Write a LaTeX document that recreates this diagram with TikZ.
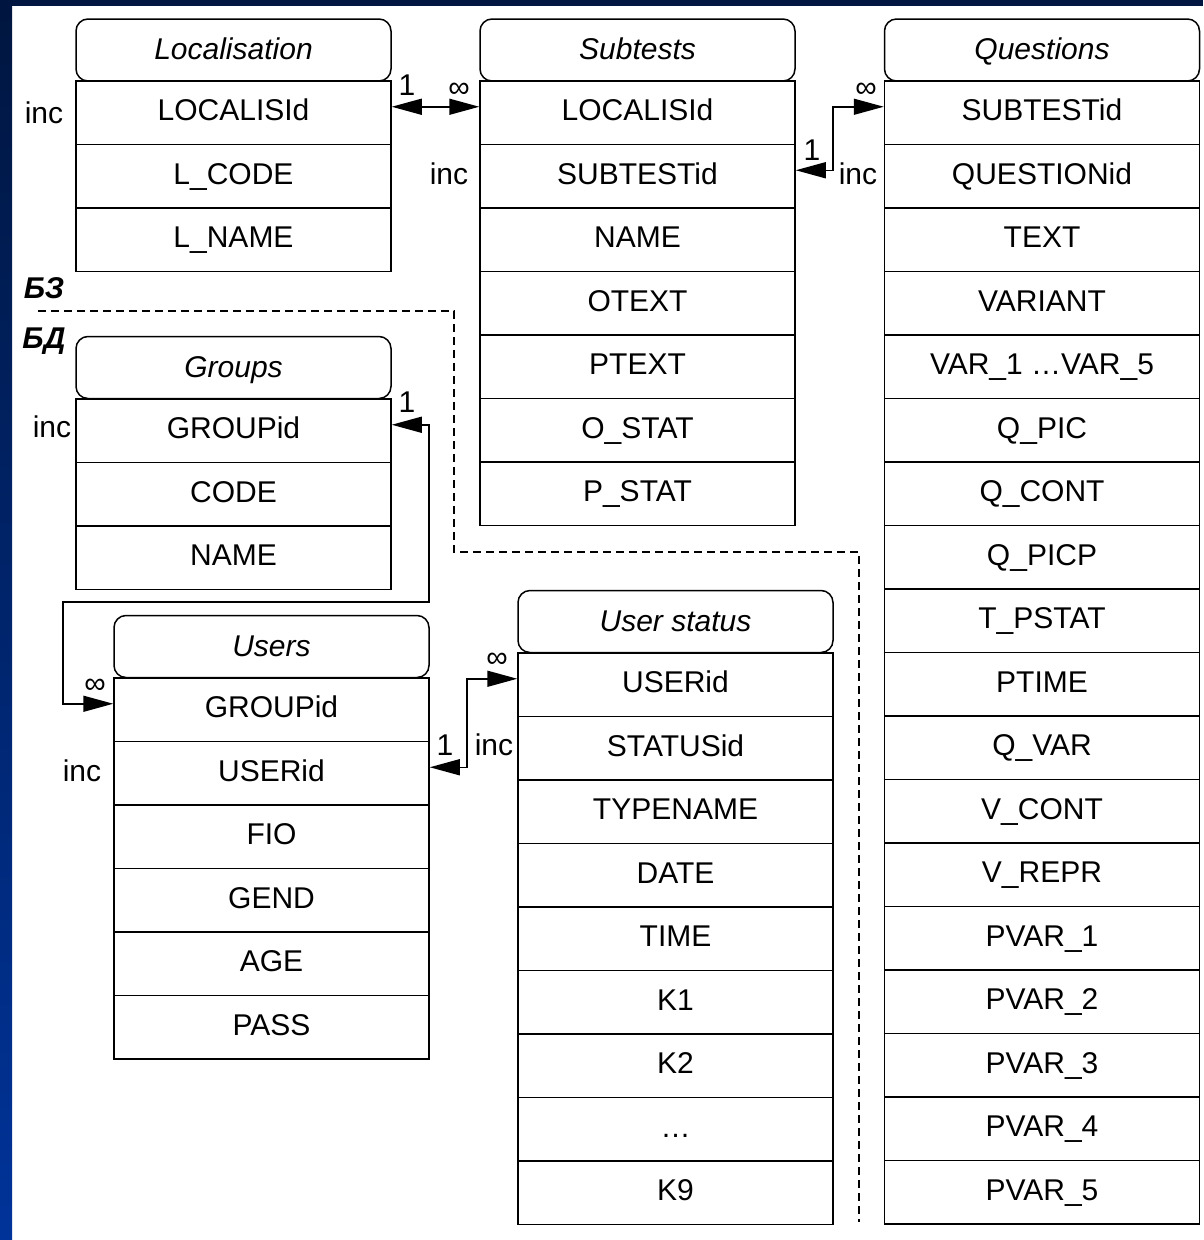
\documentclass[tikz,border=0pt]{standalone}
\usepackage{fontspec}
\setmainfont{Liberation Sans}
\usetikzlibrary{arrows.meta}
\definecolor{navy}{HTML}{001640}
\definecolor{slideblue}{HTML}{003399}
\tikzset{
	fld/.style={draw, line width=1.5pt, minimum width=315pt, minimum height=63.5pt, inner sep=0pt,
		text height=22pt, text depth=6pt, font=\fontsize{30}{36}\selectfont},
	hdr/.style={fld, rounded corners=12pt, minimum height=62pt, text depth=3pt, font=\fontsize{30}{36}\selectfont\itshape},
	lbl/.style={inner sep=0pt, font=\fontsize{30}{36}\selectfont},
	part/.style={inner sep=0pt, font=\fontsize{30}{36}\selectfont\bfseries\itshape},
	rel/.style={line width=1.5pt, {Triangle[length=30pt,width=16pt]}-{Triangle[length=30pt,width=16pt]}},
	border/.style={line width=1.5pt, dash pattern=on 8pt off 5pt}
}
\begin{document}
\begin{tikzpicture}[x=1pt, y=-1pt, line join=miter]
	\useasboundingbox (0,0) rectangle (1203,1240);
	\fill[white] (0,0) rectangle (1203,1240);
	\shade[top color=navy, bottom color=slideblue] (0,0) rectangle (12,1240);
	\fill[navy] (0,0) rectangle (1203,6);
	% tables
	\node[hdr] (loc) at (233.5,50) {Localisation};
	\foreach \f [count=\i] in {LOCALISId, L\_CODE, L\_NAME} \node[fld] (loc\i) at (233.5,{49.25+63.5*\i}) {\f};
	\node[hdr] (sub) at (637.5,50) {Subtests};
	\foreach \f [count=\i] in {LOCALISId, SUBTESTid, NAME, OTEXT, PTEXT, O\_STAT, P\_STAT} \node[fld] (sub\i) at (637.5,{49.25+63.5*\i}) {\f};
	\node[hdr] (q) at (1042,50) {Questions};
	\foreach \f [count=\i] in {SUBTESTid, QUESTIONid, TEXT, VARIANT, VAR\_1 …VAR\_5, Q\_PIC, Q\_CONT, Q\_PICP, T\_PSTAT, PTIME, Q\_VAR, V\_CONT, V\_REPR, PVAR\_1, PVAR\_2, PVAR\_3, PVAR\_4, PVAR\_5} \node[fld] (q\i) at (1042,{49.25+63.5*\i}) {\f};
	\node[hdr] (grp) at (233.5,367.5) {Groups};
	\foreach \f [count=\i] in {GROUPid, CODE, NAME} \node[fld] (grp\i) at (233.5,{367.25+63.5*\i}) {\f};
	\node[hdr] (usr) at (271.5,646.5) {Users};
	\foreach \f [count=\i] in {GROUPid, USERid, FIO, GEND, AGE, PASS} \node[fld] (usr\i) at (271.5,{646.25+63.5*\i}) {\f};
	\node[hdr] (st) at (675.5,621.5) {User status};
	\foreach \f [count=\i] in {USERid, STATUSid, TYPENAME, DATE, TIME, K1, K2, …, K9} \node[fld] (st\i) at (675.5,{621.25+63.5*\i}) {\f};
	% links
	\coordinate (sqbend) at (833,140); \coordinate (gubend1) at (429,602);
	\coordinate (gubend2) at (63,602); \coordinate (usbend) at (467,720);
	\draw[rel] ([yshift=6pt]loc1.east) -- ([yshift=6pt]sub1.west);
	\draw[rel] ([yshift=6pt]sub2.east) -| (sqbend) |- ([yshift=6pt]q1.west);
	\draw[rel] ([yshift=6pt]grp1.east) -| (gubend1) -- (gubend2) |- ([yshift=6pt]usr1.west);
	\draw[rel] ([yshift=6pt]usr2.east) -| (usbend) |- ([yshift=6pt]st1.west);
	\node[lbl] (one1) at (407,85) {1}; \node[lbl] (many1) at (459,90) {∞};
	\node[lbl] (one2) at (812,150) {1}; \node[lbl] (many2) at (866,90) {∞};
	\node[lbl] (one3) at (407,402) {1}; \node[lbl] (many3) at (95,686) {∞};
	\node[lbl] (one4) at (445,745) {1}; \node[lbl] (many4) at (497,660) {∞};
	\node[lbl] (incloc) at (44,113) {inc}; \node[lbl] (incsub) at (449,174) {inc};
	\node[lbl] (incq) at (858,174) {inc}; \node[lbl] (incgrp) at (52,427) {inc};
	\node[lbl] (incusr) at (82,771) {inc}; \node[lbl] (incst) at (494,745) {inc};
	% boundary
	\coordinate (b1) at (38,311); \coordinate (b2) at (454,311); \coordinate (b3) at (454,552);
	\coordinate (b4) at (859,552); \coordinate (b5) at (859,1222);
	\draw[border] (b1) -- (b2) -- (b3) -- (b4) -- (b5);
	\node[part] (bz) at (44,288) {БЗ};
	\node[part] (bd) at (44,341) {БД};
\end{tikzpicture}
\end{document}
